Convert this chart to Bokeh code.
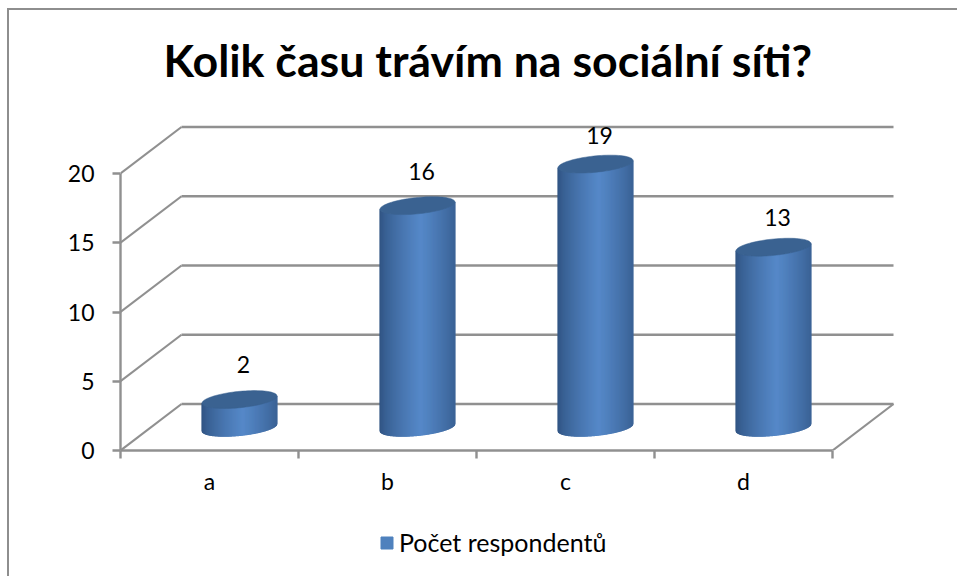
from bokeh.plotting import figure
from bokeh.layouts import column
from bokeh.embed import file_html
from bokeh.resources import INLINE
from bokeh.models import Range1d, FixedTicker, Legend, LegendItem, ColumnDataSource
from bokeh.core.properties import value
import numpy as np

# ---- data ----
categories = ["a", "b", "c", "d"]
values = [2, 16, 19, 13]
series_name = "Počet respondentů"
y_ticks = [0, 5, 10, 15, 20]
title_text = "Kolik času trávím na sociální síti?"

# ---- style / geometry ----
FONT = "Lato"
GRID = "#909090"
EDGE = "#8E8E8E"
PAGE_W, PAGE_H = 957, 576
MAIN_H = 510
FX0, FX1, FY0, FY1 = 120, 896, 120, 450   # frame in page pixels
PX_X, PX_Y = 178.0, 13.85                 # pixels per category, pixels per value unit
DX, DY = 61 / PX_X, 46.5 / PX_Y           # 3D depth expressed in data units
n_cat = len(categories)
label_lift = [35, 34, 29, 30]             # pixels from bar top centre to label centre
label_shift = 4.5                         # pixels to the right of bar centre
bar_shift = -0.5

line = f"linear-gradient({EDGE},{EDGE})"

p = figure(width=PAGE_W, height=MAIN_H, output_backend="svg", toolbar_location=None,
           frame_width=FX1 - FX0, frame_height=FY1 - FY0,
           x_range=Range1d(0, (FX1 - FX0) / PX_X),
           y_range=Range1d(0, (FY1 - FY0) / PX_Y),
           min_border_left=FX0, min_border_right=PAGE_W - FX1,
           min_border_top=FY0, min_border_bottom=MAIN_H - FY1,
           tools="",
           background_fill_color=None, border_fill_color=None,
           outline_line_color=None)
p.styles = {"background-image": f"{line},{line}",
            "background-size": "2px 100%,100% 2px",
            "background-position": "7px 8px,7px 8px",
            "background-repeat": "no-repeat"}
p.xgrid.visible = False
p.ygrid.visible = False

# title
p.title.text = title_text
p.title.align = "left"
p.title.offset = 43
p.title.vertical_align = "top"
p.title.text_font = FONT
p.title.text_font_style = "bold"
p.title.text_font_size = "44.7px"
p.title.text_color = "black"
p.title.standoff = 63

# axes
ya = p.yaxis[0]
ya.ticker = FixedTicker(ticks=y_ticks)
ya.bounds = (0, y_ticks[-1])
ya.axis_line_color = GRID
ya.axis_line_width = 2.4
ya.major_tick_line_color = GRID
ya.major_tick_line_width = 2.4
ya.major_tick_in = 0
ya.major_tick_out = 8
ya.minor_tick_line_color = None
ya.major_label_text_font = FONT
ya.major_label_text_font_size = "23px"
ya.major_label_text_color = "black"
ya.major_label_standoff = 18

xa = p.xaxis[0]
xa.ticker = FixedTicker(ticks=[i + 0.5 for i in range(n_cat)],
                        minor_ticks=list(range(n_cat + 1)))
xa.major_label_overrides = {i + 0.5: c for i, c in enumerate(categories)}
xa.bounds = (0, n_cat)
xa.axis_line_color = GRID
xa.axis_line_width = 2.4
xa.major_tick_line_color = None
xa.minor_tick_line_color = GRID
xa.minor_tick_line_width = 2.4
xa.minor_tick_in = 0
xa.minor_tick_out = 8
xa.major_label_text_font = FONT
xa.major_label_text_font_size = "23px"
xa.major_label_text_color = "black"
xa.major_label_standoff = 8

# back wall gridlines, side wall diagonals, floor edge
p.segment(x0=[DX] * len(y_ticks), y0=[t + DY for t in y_ticks],
          x1=[n_cat + DX] * len(y_ticks), y1=[t + DY for t in y_ticks],
          line_color=GRID, line_width=2.6)
p.segment(x0=[0] * len(y_ticks), y0=y_ticks,
          x1=[DX] * len(y_ticks), y1=[t + DY for t in y_ticks],
          line_color=GRID, line_width=2.2)
p.segment(x0=[n_cat], y0=[0], x1=[n_cat + DX], y1=[DY], line_color=GRID, line_width=2.2)

# cylinders: one thin sheared strip per pixel column for the gradient
DARK = np.array([0x2F, 0x52, 0x80])
LIGHT = np.array([0x56, 0x89, 0xC9])
TOP = "#3A6291"
half_w = (37.5 / PX_X)
shear = 3.6 / PX_Y
semi = 8.2 / PX_Y
N = 75
edges = np.linspace(-1, 1, N + 1)
xs, ys, cols = [], [], []
tx, ty = [], []
ts = np.linspace(0, 2 * np.pi, 90)
for i, v in enumerate(values):
    cx = i + 0.5 + DX / 2 + bar_shift / PX_X
    cy = DY / 2
    for k in range(N):
        u = np.linspace(edges[k], edges[k + 1], 3)
        low = shear * u - semi * np.sqrt(np.clip(1 - u ** 2, 0, 1))
        xx = cx + half_w * u
        xs.append(np.r_[xx, xx[::-1]].tolist())
        ys.append(np.r_[cy + low, (cy + v + low)[::-1]].tolist())
        m = (edges[k] + edges[k + 1]) / 2
        f = 1 - abs(m - 0.1) / 1.1
        f = np.clip(f, 0, 1) ** 0.7
        c = DARK + (LIGHT - DARK) * f
        cols.append("#%02x%02x%02x" % tuple(int(a) for a in c))
    tx.append((cx + half_w * np.cos(ts)).tolist())
    ty.append((cy + v + shear * np.cos(ts) + semi * np.sin(ts)).tolist())
p.patches(xs, ys, fill_color=cols, line_color=cols, line_width=1.2)
p.patches(tx, ty, fill_color=TOP, line_color=TOP, line_width=0.5)

# data labels
p.text(x=[i + 0.5 + DX / 2 + (label_shift - 1) / PX_X for i in range(n_cat)],
       y=[v + DY / 2 + label_lift[i] / PX_Y for i, v in enumerate(values)],
       text=[str(v) for v in values],
       text_align="center", text_baseline="middle",
       text_font=value(FONT), text_font_size="23px", text_color="black")

# legend strip under the chart
q = figure(width=PAGE_W, height=PAGE_H - MAIN_H, output_backend="svg", toolbar_location=None,
           x_range=Range1d(0, 1), y_range=Range1d(0, 1), tools="",
           x_axis_location=None, y_axis_location=None,
           min_border=0, min_border_left=0, min_border_right=0, min_border_top=0, min_border_bottom=0,
           background_fill_color=None, border_fill_color=None, outline_line_color=None)
q.styles = {"background-image": line, "background-size": "2px 100%",
            "background-position": "7px 0", "background-repeat": "no-repeat"}
q.xgrid.visible = False
q.ygrid.visible = False
src = ColumnDataSource(dict(x=[float("nan")], top=[float("nan")]))
r = q.vbar(x="x", top="top", width=0.1, source=src, fill_color="#4F81BD", line_color="#4F81BD")
leg = Legend(items=[LegendItem(label=series_name, renderers=[r])], orientation="horizontal",
             location=(259, 19), border_line_color=None, background_fill_color=None,
             label_text_font=FONT, label_text_font_size="25px", label_text_color="black",
             glyph_width=15, glyph_height=15, padding=0, margin=0, label_standoff=5)
q.add_layout(leg)

page = column(p, q, spacing=0)
open("out.html", "w").write(file_html(page, INLINE))
